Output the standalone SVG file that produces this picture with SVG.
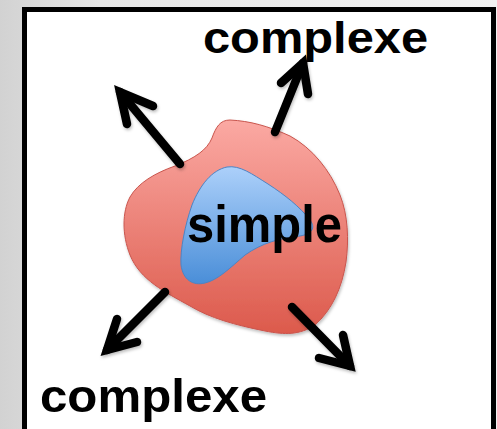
<svg xmlns="http://www.w3.org/2000/svg" width="497" height="429" viewBox="0 0 497 429">
<defs>
<linearGradient id="bg" x1="0" y1="0" x2="1" y2="0">
<stop offset="0" stop-color="#d2d2d2"/>
<stop offset="0.2" stop-color="#e6e6e6"/>
<stop offset="1" stop-color="#f2f2f2"/>
</linearGradient>
<linearGradient id="red" x1="0" y1="0" x2="0" y2="1">
<stop offset="0" stop-color="#fba9a3"/>
<stop offset="1" stop-color="#dc5a4c"/>
</linearGradient>
<linearGradient id="blue" x1="0" y1="0" x2="0" y2="1">
<stop offset="0" stop-color="#acd0fa"/>
<stop offset="1" stop-color="#4a8ed8"/>
</linearGradient>
<filter id="sh" x="-20%" y="-20%" width="140%" height="140%">
<feDropShadow dx="1" dy="2" stdDeviation="1.5" flood-color="#000" flood-opacity="0.25"/>
</filter>
</defs>
<style>
.lbl{font-family:"Liberation Sans",Arial,sans-serif;font-weight:bold;fill:#000}
.arr{fill:none;stroke:#000;stroke-width:8.5;stroke-linecap:round;stroke-linejoin:miter;stroke-miterlimit:10}
</style>
<rect x="0" y="0" width="497" height="429" fill="url(#bg)"/>
<rect x="24.5" y="9.5" width="469" height="430" fill="#fff" stroke="#000" stroke-width="5"/>
<g id="complex-region" filter="url(#sh)">
<path d="M230,120 C250,121 268,126 290,136 C312,148 330,170 340,195 C348,215 349,240 346,262 C342,288 332,310 315,325 C300,335 285,335 265,331 C235,325 210,318 190,306 C165,292 140,280 130,255 C122,235 122,212 130,197 C138,183 155,173 175,166 C195,158 207,150 212,138 C216,127 220,120 230,120 Z" fill="url(#red)" stroke="#c9554d" stroke-width="1"/>
</g>
<g id="simple-region">
<path d="M227,167 C212,170 200,185 192,205 C185,225 180,250 181,265 C183,280 193,286 205,283 C218,280 230,268 245,255 C262,243 280,238 300,236 C312,234 316,228 310,220 C300,207 285,195 268,184 C252,174 240,165 227,167 Z" fill="url(#blue)" stroke="#4d84c4" stroke-width="1"/>
<text class="lbl" x="187" y="242" font-size="52" textLength="155" lengthAdjust="spacingAndGlyphs">simple</text>
</g>
<g id="label-top">
<text class="lbl" x="203" y="53" font-size="44" textLength="225" lengthAdjust="spacingAndGlyphs">complexe</text>
</g>
<g id="label-bottom">
<text class="lbl" x="40" y="412" font-size="47" textLength="227" lengthAdjust="spacingAndGlyphs">complexe</text>
</g>
<g id="connectors" filter="url(#sh)">
<path class="arr" d="M180,164 L120,92"/>
<path class="arr" d="M153,106 L120,92 L127,124"/>
<path class="arr" d="M275,132 L303,63"/>
<path class="arr" d="M281,83 L303,63 L308,94"/>
<path class="arr" d="M165,292 L107,350"/>
<path class="arr" d="M117,319 L107,350 L137,342"/>
<path class="arr" d="M292,307 L350,366"/>
<path class="arr" d="M343,335 L350,366 L319,358"/>
</g>
</svg>
